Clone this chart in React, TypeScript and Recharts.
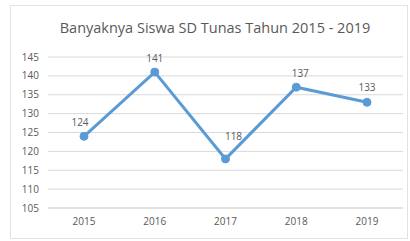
import React from "react";
import { LineChart, Line, XAxis, YAxis, CartesianGrid, LabelList } from "recharts";

const years = ["2015", "2016", "2017", "2018", "2019"];
const students = [124, 141, 118, 137, 133];
const yTicks = [105, 110, 115, 120, 125, 130, 135, 140, 145];
const title = "Banyaknya Siswa SD Tunas Tahun 2015 - 2019";

const data = years.map((y, i) => ({ year: y, value: students[i] }));

const FONT = "'Open Sans', 'Liberation Sans', sans-serif";
const GRAY = "#595959";

const renderLabel = (props: any) => {
  const { x, y, value, index } = props;
  const dx = index === 2 ? 8 : index === 3 ? 4 : index === 0 ? -4 : 0;
  const dy = index === 2 ? -22 : index === 4 ? -14 : -13;
  return (
    <text
      x={x + dx}
      y={y + dy}
      textAnchor="middle"
      dominantBaseline="middle"
      fontSize={10}
      fontFamily={FONT}
      fill={GRAY}
    >
      {value}
    </text>
  );
};

export default function App() {
  return (
    <div style={{ position: "absolute", left: 0, top: 0, width: 410, height: 241, background: "#fff" }}>
      <div
        style={{
          position: "absolute",
          left: 10,
          top: 5,
          width: 398,
          height: 234,
          border: "1px solid #e3e3e3",
          boxSizing: "border-box",
        }}
      />
      <div
        style={{
          position: "absolute",
          left: 10,
          width: 410,
          top: 18,
          textAlign: "center",
          fontFamily: FONT,
          fontSize: 14.5,
          color: GRAY,
          whiteSpace: "nowrap",
        }}
      >
        {title}
      </div>
      <div style={{ position: "absolute", left: 0, top: 0 }}>
        <LineChart width={410} height={241} data={data} margin={{ top: 57, right: 7, bottom: 8, left: 0 }}>
          <CartesianGrid vertical={false} stroke="#d9d9d9" />
          <XAxis
            dataKey="year"
            axisLine={{ stroke: "#d9d9d9" }}
            tickLine={false}
            tickSize={0}
            tickMargin={10}
            height={25}
            padding={{ left: 36, right: 36 }}
            tick={{ fontSize: 10, fill: GRAY, fontFamily: FONT }}
          />
          <YAxis
            domain={[105, 145]}
            ticks={yTicks}
            axisLine={false}
            tickLine={false}
            tickSize={0}
            tickMargin={9}
            width={48}
            interval={0}
            tick={{ fontSize: 10, fill: GRAY, fontFamily: FONT }}
          />
          <Line
            type="linear"
            dataKey="value"
            stroke="#5b9bd5"
            strokeWidth={3}
            dot={{ r: 4, fill: "#5b9bd5", stroke: "#5b9bd5", strokeWidth: 1 }}
            isAnimationActive={false}
          >
            <LabelList dataKey="value" content={renderLabel} />
          </Line>
        </LineChart>
      </div>
    </div>
  );
}
